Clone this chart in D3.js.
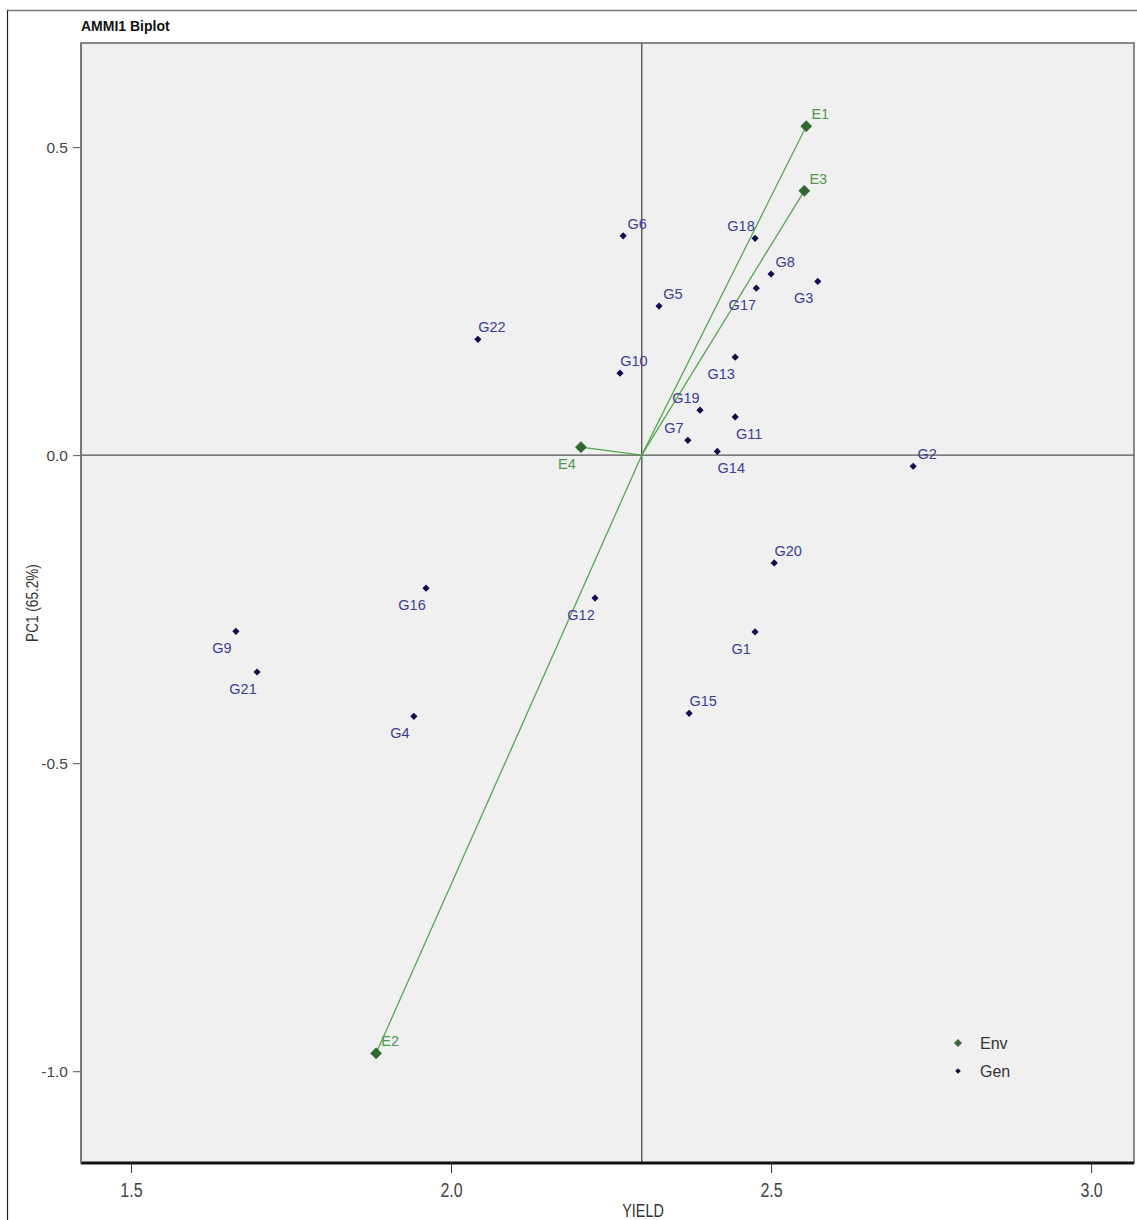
<!DOCTYPE html>
<html>
<head>
<meta charset="utf-8">
<script src="https://cdn.jsdelivr.net/npm/d3@7"></script>
<style>
  html, body { margin: 0; padding: 0; background: #ffffff; }
  svg { display: block; }
</style>
</head>
<body>
<script>
// ---------------- DATA ----------------
const genNames = ["G1","G2","G3","G4","G5","G6","G7","G8","G9","G10","G11","G12","G13","G14","G15","G16","G17","G18","G19","G20","G21","G22"];
const genYield = [2.475,2.722,2.573,1.942,2.325,2.269,2.370,2.500,1.664,2.264,2.444,2.225,2.444,2.416,2.372,1.961,2.477,2.475,2.389,2.505,1.697,2.042];
const genPC1   = [-0.287,-0.018,0.282,-0.424,0.242,0.356,0.024,0.294,-0.286,0.133,0.062,-0.232,0.159,0.006,-0.419,-0.216,0.271,0.352,0.073,-0.175,-0.352,0.188];
// label placement relative to point: ne = up-right, nw = up-left, sw = below-left, se = below-right
const genLabelPos = ["sw","ne","sw","sw","ne","ne","nw","ne","sw","ne","se","sw","sw","se","ne","sw","sw","nw","nw","ne","sw","ne"];

const envNames = ["E1","E2","E3","E4"];
const envYield = [2.555,1.883,2.552,2.203];
const envPC1   = [0.534,-0.971,0.429,0.013];
const envLabelPos = ["ne","ne","ne","sw"];

const grandMean = 2.298;

const xTicks = [1.5,2.0,2.5,3.0];
const yTicks = [0.5,0.0,-0.5,-1.0];

const titleText = "AMMI1 Biplot";
const xTitle = "YIELD";
const yTitle = "PC1 (65.2%)";
const legendItems = ["Env","Gen"];

// ---------------- LAYOUT ----------------
const W = 1137, H = 1220;
const P = {left: 81, top: 43, right: 1134, bottom: 1163};

const svg = d3.select("body").append("svg").attr("width", W).attr("height", H);

const x = d3.scaleLinear().domain([1.422, 3.067]).range([P.left, P.right]);
const y = d3.scaleLinear().domain([0.669, -1.149]).range([P.top, P.bottom]);

const fmt = v => d3.format(".1f")(v).replace("\u2212", "-");

// outer frame lines
svg.append("line").attr("x1", 7).attr("x2", W).attr("y1", 10.5).attr("y2", 10.5)
  .attr("stroke", "#777").attr("stroke-width", 1.5);
svg.append("line").attr("x1", 7.5).attr("x2", 7.5).attr("y1", 10).attr("y2", H)
  .attr("stroke", "#222").attr("stroke-width", 1.2);

// title
svg.append("text").attr("x", 81).attr("y", 31)
  .attr("font-family", "Liberation Sans, Arial, sans-serif")
  .attr("font-weight", "bold").attr("font-size", 14).attr("fill", "#111")
  .text(titleText);

// panel
svg.append("rect").attr("x", P.left).attr("y", P.top)
  .attr("width", P.right - P.left).attr("height", P.bottom - P.top)
  .attr("fill", "#f0f0f0").attr("stroke", "#666").attr("stroke-width", 1.5);

// clip
svg.append("clipPath").attr("id", "clip").append("rect")
  .attr("x", P.left).attr("y", P.top).attr("width", P.right - P.left).attr("height", P.bottom - P.top);
const g = svg.append("g").attr("clip-path", "url(#clip)");

// reference lines
g.append("line").attr("x1", x(grandMean)).attr("x2", x(grandMean))
  .attr("y1", P.top).attr("y2", P.bottom).attr("stroke", "#555").attr("stroke-width", 1.4);
g.append("line").attr("x1", P.left).attr("x2", P.right)
  .attr("y1", y(0)).attr("y2", y(0)).attr("stroke", "#555").attr("stroke-width", 1.4);

const envData = envNames.map((n, i) => ({name: n, yv: envYield[i], pc: envPC1[i], pos: envLabelPos[i]}));
const genData = genNames.map((n, i) => ({name: n, yv: genYield[i], pc: genPC1[i], pos: genLabelPos[i]}));

// environment vectors
g.selectAll("line.env").data(envData).enter().append("line").attr("class", "env")
  .attr("x1", x(grandMean)).attr("y1", y(0))
  .attr("x2", d => x(d.yv)).attr("y2", d => y(d.pc))
  .attr("stroke", "#55a84f").attr("stroke-width", 1.3);

// square diamond (rotated square)
const diamond = (r) => `M0,${-r}L${r},0L0,${r}L${-r},0Z`;

// genotype points
g.selectAll("path.gen").data(genData).enter().append("path").attr("class", "gen")
  .attr("d", diamond(3.6))
  .attr("transform", d => `translate(${x(d.yv)},${y(d.pc)})`)
  .attr("fill", "#0d0d4f");

// env points
g.selectAll("path.envp").data(envData).enter().append("path").attr("class", "envp")
  .attr("d", diamond(5.5))
  .attr("transform", d => `translate(${x(d.yv)},${y(d.pc)})`)
  .attr("fill", "#2e6b2e").attr("stroke", "#1f4f1f").attr("stroke-width", 0.6);

const off = {
  ne: [14, -7],
  nw: [-14, -7],
  sw: [-14, 22],
  se: [14, 22]
};

g.selectAll("text.genl").data(genData).enter().append("text").attr("class", "genl")
  .attr("x", d => x(d.yv) + off[d.pos][0])
  .attr("y", d => y(d.pc) + off[d.pos][1])
  .attr("text-anchor", "middle")
  .attr("font-family", "Liberation Sans, Arial, sans-serif")
  .attr("font-size", 14.5).attr("fill", "#3c3c96")
  .text(d => d.name);

g.selectAll("text.envl").data(envData).enter().append("text").attr("class", "envl")
  .attr("x", d => x(d.yv) + off[d.pos][0])
  .attr("y", d => y(d.pc) + off[d.pos][1])
  .attr("text-anchor", "middle")
  .attr("font-family", "Liberation Sans, Arial, sans-serif")
  .attr("font-size", 14.5).attr("fill", "#4f9a48")
  .text(d => d.name);

// axes
svg.append("line").attr("x1", P.left).attr("x2", P.right)
  .attr("y1", P.bottom).attr("y2", P.bottom).attr("stroke", "#111").attr("stroke-width", 3);
svg.append("line").attr("x1", P.left).attr("x2", P.left)
  .attr("y1", P.top).attr("y2", P.bottom).attr("stroke", "#777").attr("stroke-width", 2);

const xAxis = d3.axisBottom(x).tickValues(xTicks).tickFormat(fmt).tickSize(9).tickPadding(10);
const xg = svg.append("g").attr("transform", `translate(0,${P.bottom + 1})`).call(xAxis);
xg.select(".domain").remove();
xg.selectAll("line").attr("stroke", "#333");
xg.selectAll("text").attr("font-family", "Liberation Sans, Arial, sans-serif")
  .attr("font-size", 19.5).attr("fill", "#444")
  .attr("transform", "scale(0.82,1)");

const yAxis = d3.axisLeft(y).tickValues(yTicks).tickFormat(fmt).tickSize(7).tickPadding(5);
const yg = svg.append("g").attr("transform", `translate(${P.left - 1},0)`).call(yAxis);
yg.select(".domain").remove();
yg.selectAll("line").attr("stroke", "#555");
yg.selectAll("text").attr("font-family", "Liberation Sans, Arial, sans-serif")
  .attr("font-size", 15.5).attr("fill", "#444");

// axis titles
svg.append("text").attr("transform", `translate(${x(2.3)},1217) scale(0.8,1)`)
  .attr("text-anchor", "middle")
  .attr("font-family", "Liberation Sans, Arial, sans-serif")
  .attr("font-size", 18).attr("fill", "#333").text(xTitle);

svg.append("text")
  .attr("transform", `translate(38,${y(-0.24)}) rotate(-90) scale(0.8,1)`)
  .attr("text-anchor", "middle")
  .attr("font-family", "Liberation Sans, Arial, sans-serif")
  .attr("font-size", 17).attr("fill", "#333").text(yTitle);

// legend
const legend = svg.append("g");
const lx = 958, ly0 = 1043, lstep = 28;
legend.append("path").attr("d", diamond(4)).attr("transform", `translate(${lx},${ly0})`).attr("fill", "#3a6a3a");
legend.append("path").attr("d", diamond(2.8)).attr("transform", `translate(${lx},${ly0 + lstep})`).attr("fill", "#0d0d3f");
legend.selectAll("text").data(legendItems).enter().append("text")
  .attr("x", lx + 22).attr("y", (d, i) => ly0 + i * lstep + 6)
  .attr("font-family", "Liberation Sans, Arial, sans-serif")
  .attr("font-size", 16).attr("fill", "#333").text(d => d);
</script>
</body>
</html>
